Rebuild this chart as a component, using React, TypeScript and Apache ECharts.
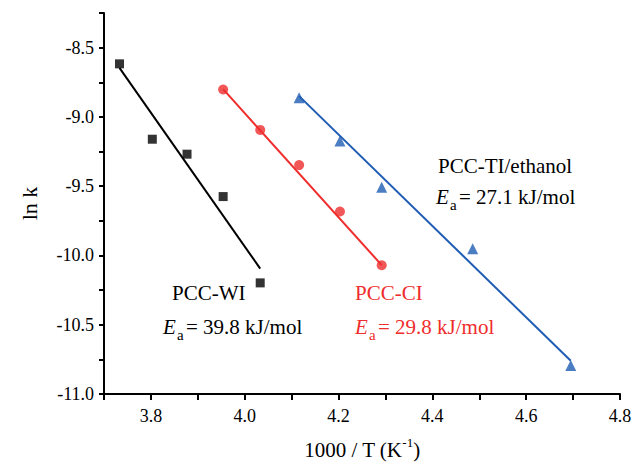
import React, { useEffect, useRef } from "react";
import * as echarts from "echarts";

// 1000/T (K^-1) and ln k values
const wiX = [3.733, 3.803, 3.877, 3.954, 4.033];
const wiY = [-8.617, -9.161, -9.269, -9.575, -10.198];
const ciX = [3.954, 4.033, 4.116, 4.203, 4.292];
const ciY = [-8.802, -9.094, -9.348, -9.683, -10.071];
const tiX = [4.116, 4.203, 4.292, 4.486, 4.695];
const tiY = [-8.861, -9.173, -9.508, -9.951, -10.794];

// Arrhenius fit lines (endpoints)
const wiFitX = [3.733, 4.033];
const wiFitY = [-8.646, -10.095];
const ciFitX = [3.954, 4.292];
const ciFitY = [-8.80, -10.07];
const tiFitX = [4.116, 4.695];
const tiFitY = [-8.85, -10.76];

const xTicks = [3.8, 4.0, 4.2, 4.4, 4.6, 4.8];
const yTicks = [-8.5, -9.0, -9.5, -10.0, -10.5, -11.0];

const BLACK = "#000000";
const RED = "#ef2d2d";
const BLUE = "#1e5cb3";
const FONT = "'Liberation Serif', 'Times New Roman', serif";

const zip = (xs: number[], ys: number[]) => xs.map((x, i) => [x, ys[i]]);

function eaLabel(x: number, y: number, value: string, color: string) {
  return [
    { type: "text", left: x, top: y, style: { text: "E", font: `italic 21px ${FONT}`, fill: color } },
    { type: "text", left: x + 14, top: y + 11, style: { text: "a", font: `15px ${FONT}`, fill: color } },
    { type: "text", left: x + 23, top: y, style: { text: "= " + value + " kJ/mol", font: `21px ${FONT}`, fill: color } },
  ];
}

export default function App() {
  const ref = useRef<HTMLDivElement>(null);
  useEffect(() => {
    if (!ref.current) return;
    const chart = echarts.init(ref.current, undefined, { renderer: "svg" });
    const axisLine = { show: true, onZero: false, lineStyle: { color: "#000", width: 2 } };
    chart.setOption({
      animation: false,
      backgroundColor: "#ffffff",
      textStyle: { fontFamily: FONT },
      grid: { left: 104, right: 16, top: 13, bottom: 69 },
      xAxis: {
        type: "value",
        min: 3.7,
        max: 4.8,
        interval: 0.1,
        axisLine,
        splitLine: { show: false },
        axisTick: { show: true, length: 6, lineStyle: { color: "#000", width: 2 } },
        axisLabel: {
          margin: 13,
          color: "#000",
          fontFamily: FONT,
          fontSize: 18,
          formatter: (v: number) => {
            const r = Math.round(v * 10) / 10;
            return xTicks.some((t) => Math.abs(t - r) < 1e-6) ? r.toFixed(1) : "";
          },
        },
        name: "{a|1000 / T (K}{s|-1}{a|)}",
        nameLocation: "middle",
        nameGap: 42,
        nameTextStyle: {
          rich: {
            a: { fontFamily: FONT, fontSize: 21, color: "#000", lineHeight: 24, verticalAlign: "bottom" },
            s: { fontFamily: FONT, fontSize: 13, color: "#000", lineHeight: 24, verticalAlign: "top" },
          },
        },
      },
      yAxis: {
        type: "value",
        min: -11,
        max: -8.25,
        interval: 0.25,
        axisLine,
        splitLine: { show: false },
        axisTick: { show: true, length: 5, lineStyle: { color: "#000", width: 2 } },
        axisLabel: {
          margin: 10,
          color: "#000",
          fontFamily: FONT,
          fontSize: 18,
          formatter: (v: number) =>
            yTicks.some((t) => Math.abs(t - v) < 1e-6) ? v.toFixed(1) : "",
        },
        name: "ln k",
        nameLocation: "middle",
        nameGap: 64,
        nameTextStyle: { fontFamily: FONT, fontSize: 22, color: "#000" },
      },
      series: [
        { type: "line", data: zip(wiFitX, wiFitY), showSymbol: false, symbol: "none", lineStyle: { color: BLACK, width: 2 }, z: 2 },
        { type: "line", data: zip(ciFitX, ciFitY), showSymbol: false, symbol: "none", lineStyle: { color: RED, width: 2 }, z: 2 },
        { type: "line", data: zip(tiFitX, tiFitY), showSymbol: false, symbol: "none", lineStyle: { color: BLUE, width: 2 }, z: 2 },
        { type: "scatter", data: zip(wiX, wiY), symbol: "rect", symbolSize: 9, itemStyle: { color: BLACK }, z: 3 },
        { type: "scatter", data: zip(ciX, ciY), symbol: "circle", symbolSize: 10, itemStyle: { color: RED }, z: 3 },
        { type: "scatter", data: zip(tiX, tiY), symbol: "triangle", symbolSize: 11, itemStyle: { color: BLUE }, z: 3 },
      ],
      graphic: [
        { type: "text", left: 172, top: 282, style: { text: "PCC-WI", font: `21px ${FONT}`, fill: BLACK } },
        ...eaLabel(163, 316, "39.8", BLACK),
        { type: "text", left: 355, top: 282, style: { text: "PCC-CI", font: `21px ${FONT}`, fill: RED } },
        ...eaLabel(355, 316, "29.8", RED),
        { type: "text", left: 438, top: 155, style: { text: "PCC-TI/ethanol", font: `21px ${FONT}`, fill: BLACK } },
        ...eaLabel(436, 186, "27.1", BLACK),
      ],
    });
    return () => chart.dispose();
  }, []);
  return (
    <div
      ref={ref}
      style={{ position: "absolute", left: 0, top: 0, width: 636, height: 465 }}
    />
  );
}
